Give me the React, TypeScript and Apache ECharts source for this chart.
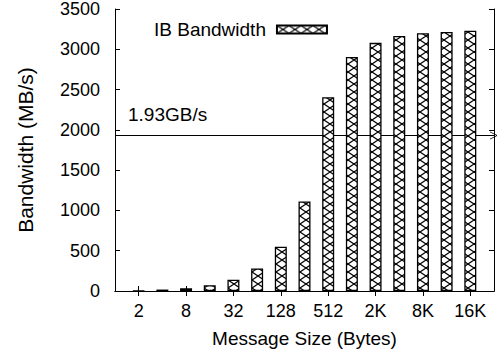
import React, { useEffect, useRef } from "react";
import * as echarts from "echarts";

// Bars (message sizes), tick labels as shown on the axis
const tickLabels = ["2", "", "8", "", "32", "", "128", "", "512", "", "2K", "", "8K", "", "16K"];
const bandwidth = [5, 18, 33, 72, 140, 280, 550, 1110, 2405, 2905, 3080, 3165, 3200, 3215, 3230];
const seriesName = "IB Bandwidth";
const refValue = 1930;
const refLabel = "1.93GB/s";
const yMin = 0;
const yMax = 3500;
const yInterval = 500;

const FONT = "'Liberation Sans', Arial, Helvetica, sans-serif";
const TW = 12;
const TH = 8;

function makeHatch(): HTMLCanvasElement {
  const c = document.createElement("canvas");
  c.width = TW;
  c.height = TH;
  const ctx = c.getContext("2d")!;
  ctx.fillStyle = "#fff";
  ctx.fillRect(0, 0, TW, TH);
  ctx.strokeStyle = "#000";
  ctx.lineWidth = 1.2;
  ctx.beginPath();
  ctx.moveTo(-TW / 4, -TH / 4);
  ctx.lineTo(TW + TW / 4, TH + TH / 4);
  ctx.moveTo(TW + TW / 4, -TH / 4);
  ctx.lineTo(-TW / 4, TH + TH / 4);
  ctx.stroke();
  return c;
}

export default function App() {
  const ref = useRef<HTMLDivElement>(null);
  useEffect(() => {
    if (!ref.current) return;
    const chart = echarts.init(ref.current, undefined, { renderer: "svg" });
    // pad one empty slot on each side (axis range spans one unit beyond the bars)
    const cats = ["", ...tickLabels, ""];
    const data: any[] = ["-", ...bandwidth, "-"];
    const hatch = makeHatch();
    const pattern: any = { image: hatch, repeat: "repeat", imageWidth: TW, imageHeight: TH, x: 2, y: 0 };
    const tickShown = (i: number) => i >= 1 && i <= cats.length - 2 && i % 2 === 1;

    chart.setOption({
      animation: false,
      textStyle: { fontFamily: FONT, color: "#000" },
      grid: { left: 115, right: -1, top: 9, bottom: 62, containLabel: false },
      legend: {
        show: true,
        left: 149,
        top: 15,
        align: "right",
        itemWidth: 50,
        itemHeight: 8,
        icon: "rect",
        textStyle: { fontSize: 19, color: "#000", fontFamily: FONT, padding: [0, 6, 0, 0] },
        data: [seriesName],
      },
      xAxis: [
        {
          type: "category",
          data: cats,
          boundaryGap: false,
          position: "bottom",
          axisLine: { show: true, lineStyle: { color: "#000", width: 1 } },
          axisTick: { show: true, inside: true, length: 5, interval: (i: number) => tickShown(i), lineStyle: { color: "#000" } },
          axisLabel: { show: true, interval: 0, margin: 11, fontSize: 18, color: "#000", fontFamily: FONT },
          splitLine: { show: false },
          name: "Message Size (Bytes)",
          nameLocation: "middle",
          nameGap: 38,
          nameTextStyle: { fontSize: 19, color: "#000", fontFamily: FONT },
        },
        {
          type: "category",
          data: cats,
          boundaryGap: false,
          position: "top",
          axisLine: { show: true, lineStyle: { color: "#000", width: 1 } },
          axisTick: { show: true, inside: true, length: 5, interval: (i: number) => tickShown(i), lineStyle: { color: "#000" } },
          axisLabel: { show: false },
          splitLine: { show: false },
        },
      ],
      yAxis: [
        {
          type: "value",
          min: yMin,
          max: yMax,
          interval: yInterval,
          position: "left",
          axisLine: { show: true, lineStyle: { color: "#000", width: 1 } },
          axisTick: { show: true, inside: true, length: 5, lineStyle: { color: "#000" } },
          axisLabel: {
            show: true,
            margin: 15,
            fontSize: 18,
            color: "#000",
            fontFamily: FONT,
            formatter: (v: number) => String(v),
          },
          splitLine: { show: false },
          name: "Bandwidth (MB/s)",
          nameLocation: "middle",
          nameGap: 79,
          nameTextStyle: { fontSize: 21, color: "#000", fontFamily: FONT },
        },
        {
          type: "value",
          min: yMin,
          max: yMax,
          interval: yInterval,
          position: "right",
          axisLine: { show: true, lineStyle: { color: "#000", width: 1 } },
          axisTick: { show: true, inside: true, length: 5, lineStyle: { color: "#000" } },
          axisLabel: { show: false },
          splitLine: { show: false },
        },
      ],
      series: [
        {
          name: seriesName,
          type: "bar",
          xAxisIndex: 0,
          yAxisIndex: 0,
          data,
          barWidth: 12,
          z: 3,
          itemStyle: { color: pattern, borderColor: "#000", borderWidth: 1.3 },
          emphasis: { disabled: true },
          markLine: {
            silent: true,
            z: 1,
            symbol: ["none", "path://M0,10 L5,0 L10,10 L9,10 L5,2 L1,10 Z"],
            symbolSize: [8, 8],
            lineStyle: { color: "#000", width: 1, type: "solid" },
            label: {
              show: true,
              position: "insideStartTop",
              distance: [13, 11],
              formatter: refLabel,
              fontSize: 19,
              color: "#000",
              fontFamily: FONT,
            },
            data: [{ yAxis: refValue }],
          },
        },
      ],
    });
    return () => chart.dispose();
  }, []);
  return (
    <div
      ref={ref}
      style={{ position: "fixed", left: 0, top: 0, width: 497, height: 353, background: "#fff" }}
    />
  );
}
